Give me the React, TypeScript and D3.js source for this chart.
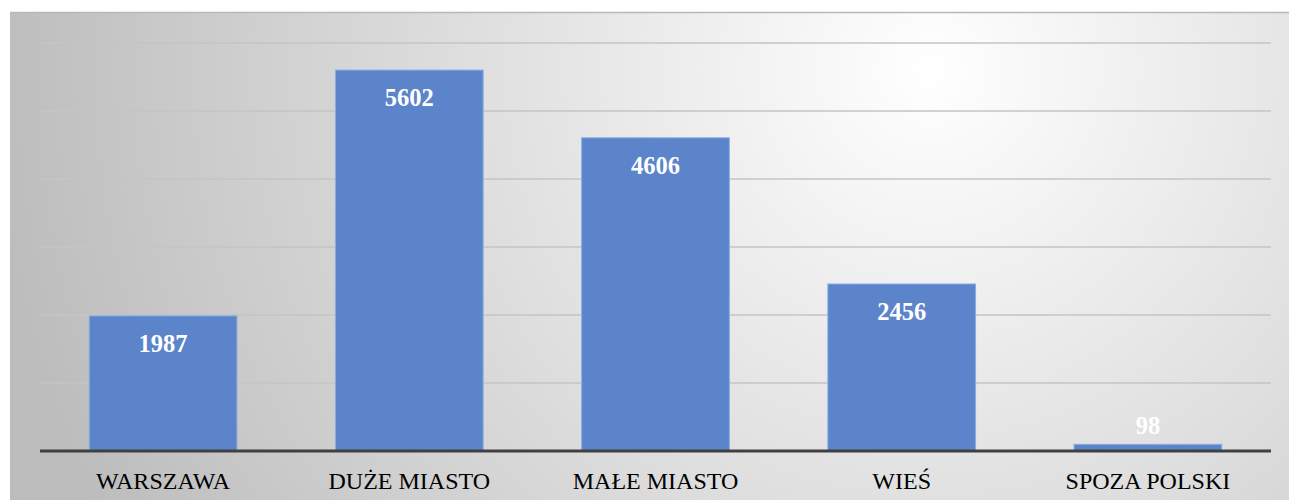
import React, { useEffect, useRef } from "react";
import * as d3 from "d3";

const categories = ["WARSZAWA", "DUŻE MIASTO", "MAŁE MIASTO", "WIEŚ", "SPOZA POLSKI"];
const values = [1987, 5602, 4606, 2456, 98];
const yTicks = [0, 1000, 2000, 3000, 4000, 5000, 6000];

const W = 1289;
const H = 503;

export default function App() {
  const svgRef = useRef<SVGSVGElement>(null);

  useEffect(() => {
    const el = svgRef.current;
    if (!el) return;
    const svg = d3.select(el);
    svg.selectAll("*").remove();

    const plot = { left: 40, right: 1271, top: 43, bottom: 451 };

    const x = d3.scaleBand<string>()
      .domain(categories)
      .range([plot.left, plot.right])
      .paddingInner(0.4)
      .paddingOuter(0.2);
    const y = d3.scaleLinear().domain([0, 6000]).range([plot.bottom, plot.top]);

    // background
    const defs = svg.append("defs");
    const grad = defs.append("radialGradient")
      .attr("id", "bg-grad")
      .attr("gradientUnits", "userSpaceOnUse")
      .attr("cx", 930)
      .attr("cy", 70)
      .attr("r", 950);
    grad.append("stop").attr("offset", "0%").attr("stop-color", "#ffffff");
    grad.append("stop").attr("offset", "100%").attr("stop-color", "#bcbcbc");

    svg.append("rect")
      .attr("x", 10)
      .attr("y", 12)
      .attr("width", W - 10)
      .attr("height", 488)
      .attr("fill", "url(#bg-grad)");
    svg.append("line")
      .attr("x1", 10).attr("x2", W)
      .attr("y1", 12.5).attr("y2", 12.5)
      .attr("stroke", "#b8b8b8")
      .attr("stroke-width", 1.5);

    // gridlines
    svg.append("g")
      .selectAll("line")
      .data(yTicks.filter((t) => t > 0))
      .join("line")
      .attr("x1", plot.left)
      .attr("x2", plot.right)
      .attr("y1", (d) => y(d))
      .attr("y2", (d) => y(d))
      .attr("stroke", "#c4c4c4")
      .attr("stroke-width", 1.3);

    // bars
    svg.append("g")
      .selectAll("rect")
      .data(values)
      .join("rect")
      .attr("x", (d, i) => x(categories[i])!)
      .attr("y", (d) => y(d))
      .attr("width", x.bandwidth())
      .attr("height", (d) => y(0) - y(d))
      .attr("fill", "#5b84cb")
      .attr("stroke", "#8aaee3")
      .attr("stroke-width", 1);

    // value labels
    svg.append("g")
      .selectAll("text")
      .data(values)
      .join("text")
      .attr("x", (d, i) => x(categories[i])! + x.bandwidth() / 2)
      .attr("y", (d) => (y(0) - y(d) > 50 ? y(d) + 36 : y(d) - 10))
      .attr("text-anchor", "middle")
      .attr("font-family", "'Liberation Serif', 'Times New Roman', serif")
      .attr("font-weight", "bold")
      .attr("font-size", 24.5)
      .attr("fill", "#ffffff")
      .text((d) => d);

    // baseline
    svg.append("line")
      .attr("x1", plot.left)
      .attr("x2", plot.right)
      .attr("y1", y(0))
      .attr("y2", y(0))
      .attr("stroke", "#404040")
      .attr("stroke-width", 3);

    // category labels
    svg.append("g")
      .selectAll("text")
      .data(categories)
      .join("text")
      .attr("x", (d) => x(d)! + x.bandwidth() / 2)
      .attr("y", 489)
      .attr("text-anchor", "middle")
      .attr("font-family", "'Liberation Serif', 'Times New Roman', serif")
      .attr("font-size", 24)
      .attr("fill", "#000000")
      .text((d) => d);
  }, []);

  return (
    <div style={{ position: "absolute", left: 0, top: 0, width: W, height: H, background: "#ffffff" }}>
      <svg ref={svgRef} width={W} height={H} style={{ display: "block" }} />
    </div>
  );
}
